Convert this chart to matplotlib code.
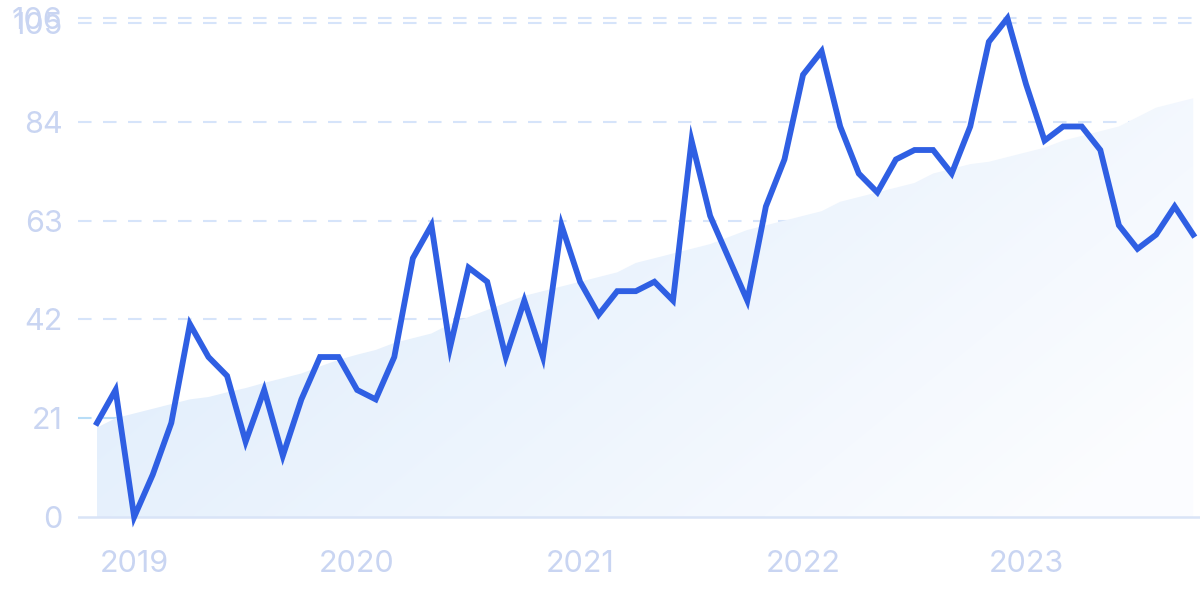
import matplotlib
matplotlib.use("Agg")
import matplotlib.pyplot as plt
import numpy as np

# Monthly values, Nov 2018 .. Oct 2023
months = ["2018-11", "2018-12"] + [f"{y}-{m:02d}" for y in range(2019, 2024) for m in range(1, 13)]
months = months[:60]
values = [20, 27, 0, 9, 20, 41, 34, 30, 16, 27, 13, 25,
          34, 34, 27, 25, 34, 55, 62, 36, 53, 50, 34, 46,
          34, 62, 50, 43, 48, 48, 50, 46, 80, 64, 55, 46,
          66, 76, 94, 99, 83, 73, 69, 76, 78, 78, 73, 83,
          101, 106, 92, 80, 83, 83, 78, 62, 57, 60, 66, 60]
trend = [19, 21, 22, 23, 24, 25, 25.5, 26.5, 27.4, 28.5, 29.5, 30.5,
         32, 33.4, 34.5, 35.5, 37, 38, 39, 41, 42.5, 44, 45.5, 47,
         48, 49, 50, 51, 52, 54, 55, 56, 57, 58, 59.5, 61,
         62, 63, 64, 65, 67, 68, 69, 70, 71, 73, 74, 75,
         75.5, 76.5, 77.5, 78.5, 80, 81, 82, 83, 85, 87, 88, 89]
y_ticks = [0, 21, 42, 63, 84, 105, 106]
x_tick_labels = ["2019", "2020", "2021", "2022", "2023"]

W, H = 1200, 599
fig = plt.figure(figsize=(W / 100, H / 100), dpi=100)
ax_l, ax_r, ax_b, ax_t = 78, 1200, 74, 589
ax = fig.add_axes([ax_l / W, ax_b / H, (ax_r - ax_l) / W, (ax_t - ax_b) / H])

x = np.arange(len(values))
px_per_idx = 18.58
ax.set_xlim((78 - 97) / px_per_idx, (1200 - 97) / px_per_idx)
px_per_val = 4.705
y0_from_bottom = 82
ax.set_ylim(-(y0_from_bottom - ax_b) / px_per_val, (ax_t - y0_from_bottom) / px_per_val)

# gradient fill under trend
poly = ax.fill_between(x, 0, trend, facecolor="none", edgecolor="none")
xs = np.linspace(0, 1, 300)
ys = np.linspace(0, 1, 200)
XX, YY = np.meshgrid(xs, ys)
t = np.clip(0.75 * XX + 0.35 * (1 - YY), 0, 1)
c0 = np.array([0.86, 0.92, 0.985])
c1 = np.array([0.985, 0.99, 1.0])
img = c0[None, None, :] * (1 - t[..., None]) + c1[None, None, :] * t[..., None]
im = ax.imshow(img, extent=[0, len(values) - 1, 0, max(trend)], origin="lower",
               aspect="auto", zorder=1, interpolation="bilinear")
path = poly.get_paths()[0]
im.set_clip_path(path, transform=ax.transData)

# grid lines
for v in y_ticks:
    if v == 0:
        continue
    col = "#B8DDF7" if v == 21 else "#D6E4FA"
    ax.axhline(v, color=col, lw=1.5, ls=(0, (6.5, 5.5)), zorder=0.5)
ax.axhline(0, color="#D9E4F7", lw=1.8, zorder=1.5)

ax.plot(x, values, color="#2F5FE3", lw=4.2, solid_joinstyle="miter", zorder=3,
        clip_on=False)

for s in ax.spines.values():
    s.set_visible(False)

ax.set_yticks(y_ticks)
ax.set_yticklabels([str(v) for v in y_ticks])
jan_idx = [months.index(f"{y}-01") for y in x_tick_labels]
ax.set_xticks(jan_idx)
ax.set_xticklabels(x_tick_labels)
ax.tick_params(axis="both", length=0, colors="#C9D5F2", labelsize=22)
ax.tick_params(axis="y", pad=11)
ax.tick_params(axis="x", pad=18)
for lab in ax.get_xticklabels() + ax.get_yticklabels():
    lab.set_fontfamily("Inter")
    lab.set_color("#C9D5F2")

fig.savefig("out.png", dpi=100)
